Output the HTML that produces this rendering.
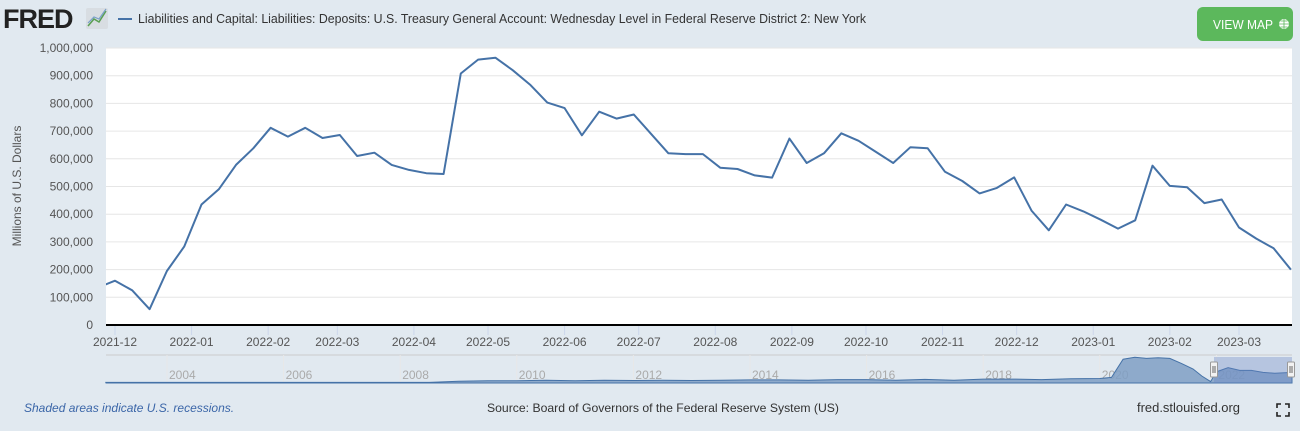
<!DOCTYPE html>
<html><head><meta charset="utf-8"><style>
body{margin:0;width:1300px;height:431px;background:#e1e9f0;font-family:"Liberation Sans",sans-serif;overflow:hidden;position:relative}
</style></head><body>
<svg id="c" width="1300" height="431" style="position:absolute;left:0;top:0;font-family:'Liberation Sans',sans-serif">
<g>
<text x="3" y="28" font-size="27" font-weight="bold" fill="#222" letter-spacing="-1">FRED</text>
<rect x="86" y="8" width="22" height="21" fill="#d8dde2" rx="2"/>
<polyline points="88,26 94,19 99,22 106,11" fill="none" stroke="#5a9f52" stroke-width="1.5"/>
<polyline points="88,23 94,17 99,19 106,9" fill="none" stroke="#7aa0c8" stroke-width="1.2"/>
</g>
<line x1="118" y1="19" x2="132" y2="19" stroke="#4572a7" stroke-width="2"/>
<text x="138" y="23" font-size="13" textLength="728" lengthAdjust="spacingAndGlyphs" fill="#333">Liabilities and Capital: Liabilities: Deposits: U.S. Treasury General Account: Wednesday Level in Federal Reserve District 2: New York</text>
<g>
<rect x="1197" y="7" width="96" height="34" rx="6" fill="#5cb85c"/>
<text x="1213" y="29" font-size="12.5" textLength="60" lengthAdjust="spacingAndGlyphs" fill="#fff">VIEW MAP</text>
<circle cx="1284" cy="24" r="5" fill="#fff"/>
<path d="M1279,24h10M1284,19v10M1280.5,21h7M1280.5,27h7" stroke="#5cb85c" stroke-width="0.8"/>
</g>
<rect x="106" y="48" width="1186" height="277" fill="#fff"/>
<g id="grid"></g><g id="yl"></g><g id="xl"></g>
<text transform="translate(21,186) rotate(-90)" text-anchor="middle" font-size="12" fill="#555">Millions of U.S. Dollars</text>
<g id="series"></g>
<line x1="106" y1="325" x2="1292" y2="325" stroke="#000" stroke-width="2"/>
<g id="nav"></g>
<text x="24" y="412" font-size="12" font-style="italic" fill="#3b66a8">Shaded areas indicate U.S. recessions.</text>
<text x="487" y="412" font-size="12" textLength="352" lengthAdjust="spacingAndGlyphs" fill="#333">Source: Board of Governors of the Federal Reserve System (US)</text>
<text x="1137" y="412" font-size="12.5" textLength="103" lengthAdjust="spacingAndGlyphs" fill="#333">fred.stlouisfed.org</text>
<path d="M1277,408v-4h4M1285,404h4v4M1289,412v4h-4M1281,416h-4v-4" stroke="#222" stroke-width="1.6" fill="none"/>
</svg>
<script>
const startDate = "2021-11-24";
const values = [135,160,125,57,195,283,435,490,578,638,712,680,712,675,686,610,622,578,560,548,545,908,958,965,920,868,803,783,685,770,745,760,690,620,617,617,568,563,540,532,673,585,620,692,665,625,585,642,638,553,520,475,495,533,413,342,435,410,380,348,378,575,502,497,440,453,352,312,277,200];
const yTicks = [0,100,200,300,400,500,600,700,800,900,1000];
const xTickLabels = ["2021-12","2022-01","2022-02","2022-03","2022-04","2022-05","2022-06","2022-07","2022-08","2022-09","2022-10","2022-11","2022-12","2023-01","2023-02","2023-03"];
const navYears = [2004,2006,2008,2010,2012,2014,2016,2018,2020,2022];
const navTimes = [2002.95,2008.5,2009,2009.5,2010,2010.5,2011,2011.5,2012,2012.5,2013,2013.5,2014,2014.5,2015,2015.5,2016,2016.5,2017,2017.5,2018,2018.5,2019,2019.5,2020,2020.2,2020.4,2020.6,2020.8,2021,2021.2,2021.4,2021.6,2021.75,2021.9,2022,2022.2,2022.4,2022.6,2022.8,2023,2023.3];
const navValues = [2,2,6,8,8,10,8,10,9,10,9,10,11,11,10,12,12,10,13,10,14,14,12,15,16,20,85,92,88,90,88,70,50,25,5,40,55,45,45,38,35,38];
const svg = document.getElementById('c');
const NS = 'http://www.w3.org/2000/svg';
const day = 86400000;
const t0 = Date.parse("2021-12-01"), x0 = 115, pxDay = 1124/455;
function x(d){return x0 + (Date.parse(d)-t0)/day*pxDay;}
function y(v){return 325 - v*0.277;}
function mk(tag, attrs, parent){const e=document.createElementNS(NS,tag);for(const k in attrs)e.setAttribute(k,attrs[k]);parent.appendChild(e);return e;}
const grid=document.getElementById('grid'), yl=document.getElementById('yl'), xl=document.getElementById('xl');
yTicks.forEach(v=>{
  if(v>0){const g=mk('line',{x1:106,x2:1292,y1:y(v),y2:y(v),stroke:'#e6e6e6'},grid);
  
  }
  const t=mk('text',{x:93,y:y(v)+4,'text-anchor':'end','font-size':12,fill:'#555'},yl);
  t.textContent=v===0?'0':(v*1000).toLocaleString('en-US');
  
  
});
xTickLabels.forEach(s=>{
  const xx=x(s+"-01");
  mk('line',{x1:xx,x2:xx,y1:326,y2:335,stroke:'#ccd6eb'},xl);
  const t=mk('text',{x:xx,y:346,'text-anchor':'middle','font-size':12,fill:'#555'},xl);
  t.textContent=s;
  
  
});
const ser=document.getElementById('series');
const cp=mk('clipPath',{id:'cl'},ser); mk('rect',{x:106,y:40,width:1186,height:290},cp);
const base=Date.parse(startDate);
const pts=values.map((v,i)=>{const d=new Date(base+i*7*day).toISOString().slice(0,10);return x(d).toFixed(1)+','+y(v).toFixed(1);}).join(' ');
const line=mk('polyline',{points:pts,fill:'none',stroke:'#4572a7','stroke-width':2,'stroke-linejoin':'round','clip-path':'url(#cl)'},ser);


// navigator
const nav=document.getElementById('nav');
mk('line',{x1:106,x2:1292,y1:355,y2:355,stroke:'#ccc'},nav);
const ny=383,nh=28;
function nx(yr){return 167+(yr-2004)*58.3;}
navYears.forEach(yr=>{
  const xx=nx(yr);
  mk('line',{x1:xx,x2:xx,y1:355,y2:383,stroke:'#e8e8e8'},nav);
  const t=mk('text',{x:xx+2,y:379,'font-size':12,fill:'#aaa'},nav);
  t.textContent=yr;
  
  
});
let np='M106,'+ny;
navValues.forEach((v,i)=>{np+=' L'+Math.min(1292,nx(navTimes[i])).toFixed(1)+','+(ny-v/100*nh).toFixed(1);});
np+=' L1292,'+ny+' Z';
const area=mk('path',{d:np,fill:'#7f9fc4','fill-opacity':0.85,stroke:'#4572a7','stroke-width':1},nav);


const sel=mk('rect',{x:1214,y:357,width:78,height:26,fill:'#6685c2','fill-opacity':0.35},nav);


[1214,1291].forEach(hx=>{
  const h=mk('rect',{x:hx-3.5,y:362,width:7,height:15,fill:'#f2f2f2',stroke:'#999',rx:1},nav);
  
  
  mk('path',{d:`M${hx-1},366v7M${hx+1},366v7`,stroke:'#666'},nav);
});
</script>
</body></html>
